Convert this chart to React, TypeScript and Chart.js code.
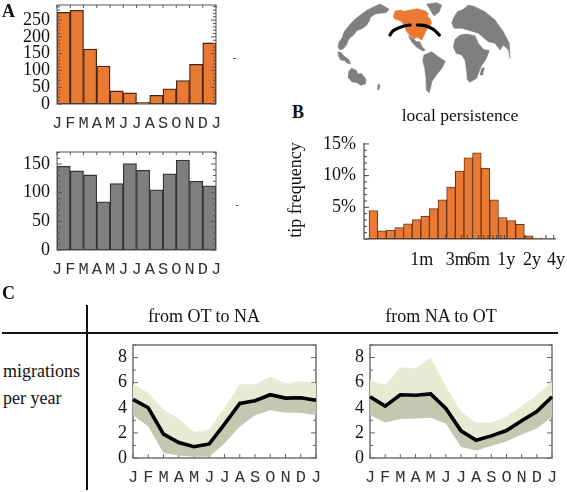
import React, { useEffect, useRef } from "react";
import { Chart, registerables } from "chart.js";

Chart.register(...registerables);

const monthTicks = ["J", "F", "M", "A", "M", "J", "J", "A", "S", "O", "N", "D", "J"];
const naCounts = [273, 279, 164, 113, 39, 33, 5, 26, 45, 70, 118, 182];
const otCounts = [146, 138, 131, 84, 116, 151, 139, 105, 133, 157, 120, 112];
const tipFreq = [4.5, 1.3, 1.4, 1.8, 2.4, 3.05, 3.6, 4.8, 6.2, 8.2, 10.7, 12.8, 13.6, 11.2, 6.2, 3.4, 2.9, 2.3, 0.5, 0.15, 0.05, 0.05];
const persistLabels = ["1m", "3m", "6m", "1y", "2y", "4y"];
const persistTicks = [6.12, 10.22, 12.7, 15.9, 18.9, 21.67];
const persistMinor = [8.9, 10.7, 11.4, 12, 12.7, 13.3, 13.8, 14.4, 14.8, 15.3, 15.7, 18.1, 20.5, 21.4];
const otNaMean = [4.67, 4.0, 1.9, 1.23, 0.9, 1.12, 2.7, 4.35, 4.56, 5.04, 4.77, 4.8, 4.6];
const otNaUpper = [5.87, 5.2, 3.87, 3.15, 2.08, 2.27, 4.0, 5.87, 5.87, 6.48, 5.95, 6.12, 5.95];
const otNaLower = [3.4, 2.5, 0.4, 0.2, 0.1, 0.1, 1.15, 2.5, 3.4, 3.8, 3.6, 3.6, 3.4];
const naOtMean = [4.88, 4.13, 5.04, 5.0, 5.1, 3.95, 2.16, 1.41, 1.76, 2.19, 2.96, 3.7, 4.88];
const naOtUpper = [6.2, 5.84, 7.2, 7.15, 8.0, 5.7, 3.68, 2.8, 2.8, 3.28, 4.13, 5.0, 6.1];
const naOtLower = [3.4, 2.83, 3.1, 3.15, 3.2, 2.75, 0.88, 0.6, 0.96, 1.33, 1.87, 2.35, 3.28];

const asiaEast = [[150,12],[165,20],[178,28],[168,38],[150,40],[135,42],[122,52],[118,62],[110,76],[96,86],[80,92],[72,104],[62,112],[54,122],[50,134],[40,146],[30,150],[24,140],[27,126],[36,114],[42,96],[56,78],[72,60],[92,44],[112,30],[132,20],[150,12]];
const islands = [[24,155],[34,158],[42,168],[56,178],[62,192],[52,190],[44,182],[32,180],[26,168],[24,155]];
const australia = [[64,205],[78,210],[84,222],[94,220],[108,238],[106,252],[92,256],[80,248],[66,246],[54,232],[56,215],[64,205]];
const newZealand = [[145,252],[150,255],[147,270],[142,268],[145,252]];
const northAmerica = [[195,33],[212,30],[222,34],[240,30],[262,26],[285,32],[295,40],[292,50],[300,55],[305,70],[292,86],[282,106],[276,120],[262,112],[252,116],[240,108],[228,92],[225,76],[210,62],[196,58],[190,52],[195,33]];
const mexico = [[235,108],[250,116],[258,124],[270,126],[276,140],[286,150],[278,153],[260,142],[247,128],[235,108]];
const southAmerica = [[282,165],[305,155],[325,170],[346,184],[336,205],[320,224],[306,244],[298,278],[289,270],[288,236],[284,205],[278,182],[282,165]];
const greenland = [[290,12],[320,8],[335,15],[328,35],[312,48],[302,32],[290,12]];
const africa = [[375,118],[390,105],[410,102],[435,107],[445,130],[460,148],[478,152],[468,178],[452,202],[440,235],[420,247],[412,240],[410,215],[405,180],[395,165],[378,160],[370,140],[375,118]];
const eurasia = [[365,68],[370,55],[382,35],[400,28],[415,15],[435,20],[465,35],[495,60],[520,95],[538,130],[540,175],[535,150],[520,135],[510,150],[495,130],[475,125],[445,100],[420,92],[395,85],[372,85],[365,68]];
const madagascar = [[455,205],[463,203],[458,225],[450,225],[455,205]];
const arcWest = [[180,105],[190,92],[215,80],[240,75]];
const arcEast = [[262,75],[285,77],[310,88],[328,105]];

const ORANGE = "#e87a33";
const GREY = "#7f7f7f";
const SERIF = "'Liberation Serif'";
const MONO = "'Liberation Mono'";

type Rect = { l: number; t: number; r: number; b: number };
const M = { L: 50, R: 24, T: 24, B: 32 };

function axisPlugin(cfg: any) {
  const hook = cfg.under ? "beforeDatasetsDraw" : "afterDatasetsDraw";
  return {
    id: "axisMarks",
    [hook](chart: any) {
      const { ctx, chartArea: a, scales } = chart;
      const x = scales.x, y = scales.y;
      ctx.save();
      ctx.strokeStyle = cfg.color;
      ctx.lineWidth = 1;
      if (cfg.frame) {
        ctx.lineWidth = cfg.frameWidth || 1;
        ctx.strokeRect(a.left, a.top, a.right - a.left, a.bottom - a.top);
        ctx.lineWidth = 1;
      } else {
        ctx.lineWidth = 1.2;
        ctx.beginPath();
        ctx.moveTo(a.left, a.top);
        ctx.lineTo(a.left, a.bottom);
        ctx.lineTo(a.right, a.bottom);
        ctx.stroke();
        ctx.lineWidth = 1;
      }
      ctx.beginPath();
      for (let v = 0; v <= y.max; v += cfg.yStep) {
        const p = y.getPixelForValue(v);
        const major = Math.abs(v / cfg.yMajor - Math.round(v / cfg.yMajor)) < 1e-6;
        const len = major ? 5 : 3;
        ctx.moveTo(a.left, p); ctx.lineTo(a.left + len, p);
        if (cfg.rightTicks) { ctx.moveTo(a.right, p); ctx.lineTo(a.right - len, p); }
      }
      for (const v of cfg.xTicks || []) {
        const p = x.getPixelForValue(v);
        if (cfg.topTicks) { ctx.moveTo(p, a.top); ctx.lineTo(p, a.top + 3); }
        if (cfg.bottomTicks) { ctx.moveTo(p, a.bottom); ctx.lineTo(p, a.bottom - 4); }
      }
      ctx.stroke();
      ctx.restore();
    },
  };
}

const polygonFill = {
  id: "polygonFill",
  beforeDatasetsDraw(chart: any) {
    const { ctx } = chart;
    chart.data.datasets.forEach((ds: any, i: number) => {
      if (!ds.polygonColor) return;
      const pts = chart.getDatasetMeta(i).data;
      ctx.save();
      ctx.fillStyle = ds.polygonColor;
      ctx.beginPath();
      pts.forEach((p: any, k: number) => (k ? ctx.lineTo(p.x, p.y) : ctx.moveTo(p.x, p.y)));
      ctx.closePath();
      ctx.fill();
      ctx.restore();
    });
  },
};

function plotRectLayout() {
  return { padding: { left: 0, top: M.T, right: M.R, bottom: 0 } };
}

function monthAxes(yMax: number, yStep: number, padX: number, padY: number) {
  return {
    x: {
      type: "linear", min: 0, max: 12, offset: false,
      afterFit: (s: any) => { s.height = M.B; },
      grid: { display: false, drawTicks: false, offset: false }, border: { display: false },
      ticks: {
        stepSize: 1, autoSkip: false, maxRotation: 0, padding: padX,
        color: "#333", font: { family: MONO, size: 17 },
        callback: (v: number) => monthTicks[Math.round(v)],
      },
    },
    y: {
      min: 0, max: yMax,
      afterFit: (s: any) => { s.width = M.L; },
      grid: { display: false, drawTicks: false }, border: { display: false },
      ticks: {
        stepSize: yStep, includeBounds: false, autoSkip: false, padding: padY,
        color: "#111", font: { family: SERIF, size: 18 },
      },
    },
  };
}

function base(scales: any, extra: any = {}) {
  return {
    animation: false, responsive: false, maintainAspectRatio: false,
    layout: plotRectLayout(),
    plugins: { legend: { display: false }, tooltip: { enabled: false } },
    scales, ...extra,
  };
}

function monthBars(values: number[], yMax: number, yStep: number, color: string, edge: string) {
  return {
    type: "bar",
    data: {
      datasets: [{
        data: values.map((v, i) => ({ x: i + 0.5, y: v })),
        backgroundColor: color, borderColor: edge, borderWidth: 1.3, borderSkipped: false,
        barPercentage: 1, categoryPercentage: 1,
      }],
    },
    options: base(monthAxes(yMax, yStep, 9, 7)),
    plugins: [axisPlugin({
      color: "#555", frame: true, yStep: 10, yMajor: 50, rightTicks: true,
      xTicks: monthTicks.map((_, i) => i), topTicks: true,
    })],
  };
}

function bandChart(mean: number[], upper: number[], lower: number[]) {
  const pts = (a: number[]) => a.map((v, i) => ({ x: i, y: v }));
  return {
    type: "line",
    data: {
      datasets: [
        { data: pts(mean), borderColor: "#000", borderWidth: 3.6, pointRadius: 0, fill: false, clip: 4, borderJoinStyle: "miter" },
        { data: pts(upper), borderWidth: 0, pointRadius: 0, backgroundColor: "#e6ebd3", fill: { target: 0, above: "#e6ebd3", below: "#e6ebd3" } },
        { data: pts(lower), borderWidth: 0, pointRadius: 0, backgroundColor: "#c5c8b0", fill: { target: 0, above: "#c5c8b0", below: "#c5c8b0" } },
      ],
    },
    options: base(monthAxes(9, 2, 9, 6)),
    plugins: [axisPlugin({
      under: true, color: "#666", frame: true, frameWidth: 1.4, yStep: 1, yMajor: 2, rightTicks: true,
      xTicks: monthTicks.map((_, i) => i), bottomTicks: true,
    })],
  };
}

function histogram() {
  const scales: any = monthAxes(15.15, 5, 9, 8);
  scales.x.min = -0.58;
  scales.x.max = 21.67;
  scales.x.afterBuildTicks = (s: any) => { s.ticks = persistTicks.map((value) => ({ value })); };
  scales.x.ticks.font = { family: SERIF, size: 18 };
  scales.x.ticks.color = "#111";
  scales.x.ticks.padding = 10;
  scales.x.ticks.callback = (v: number) => persistLabels[persistTicks.indexOf(v)];
  scales.y.ticks.callback = (v: number) => (v === 0 ? "" : v + "%");
  return {
    type: "bar",
    data: {
      datasets: [{
        data: tipFreq.map((v, i) => ({ x: i + 0.5, y: v })),
        backgroundColor: ORANGE, borderColor: "#6b3212", borderWidth: 1, borderSkipped: false,
        barPercentage: 1, categoryPercentage: 1,
      }],
    },
    options: base(scales),
    plugins: [axisPlugin({
      color: "#444", frame: false, yStep: 1, yMajor: 5, xTicks: persistMinor, bottomTicks: true,
    })],
  };
}

function mapChart() {
  const poly = (p: number[][], c: string) => ({
    data: p.map(([x, y]) => ({ x, y })),
    polygonColor: c, borderColor: c, borderWidth: 0.5, pointRadius: 0, fill: false, tension: 0,
  });
  const arc = (p: number[][]) => ({
    data: p.map(([x, y]) => ({ x, y })),
    borderColor: "#000", borderWidth: 3.2, pointRadius: 0, fill: false, tension: 0.4, borderCapStyle: "round",
  });
  return {
    type: "line",
    data: {
      datasets: [
        arc(arcWest), arc(arcEast),
        poly(northAmerica, ORANGE),
        ...[asiaEast, islands, australia, newZealand, mexico, southAmerica, greenland, eurasia, madagascar, africa].map((p) => poly(p, GREY)),
      ],
    },
    options: {
      animation: false, responsive: false, maintainAspectRatio: false,
      layout: { padding: 0 },
      plugins: { legend: { display: false }, tooltip: { enabled: false } },
      scales: {
        x: { type: "linear", min: 0, max: 720, display: false },
        y: { type: "linear", min: 0, max: 300, reverse: true, display: false },
      },
    },
    plugins: [polygonFill],
  };
}

const PANELS: { rect: Rect; make: () => any }[] = [
  { rect: { l: 57, t: 5, r: 216, b: 104 }, make: () => monthBars(naCounts, 295, 50, ORANGE, "#4a2410") },
  { rect: { l: 57, t: 152, r: 216, b: 250 }, make: () => monthBars(otCounts, 171, 50, GREY, "#333") },
  { rect: { l: 364, t: 143, r: 556, b: 239 }, make: histogram },
  { rect: { l: 133, t: 345, r: 316, b: 458 }, make: () => bandChart(otNaMean, otNaUpper, otNaLower) },
  { rect: { l: 370, t: 345, r: 552, b: 458 }, make: () => bandChart(naOtMean, naOtUpper, naOtLower) },
];

function Panel({ rect, make }: { rect: Rect; make: () => any }) {
  const ref = useRef<HTMLCanvasElement>(null);
  useEffect(() => {
    const c = new Chart(ref.current as any, make());
    return () => c.destroy();
  }, []);
  return (
    <canvas
      ref={ref}
      width={rect.r - rect.l + M.L + M.R}
      height={rect.b - rect.t + M.T + M.B}
      style={{ position: "absolute", left: rect.l - M.L, top: rect.t - M.T, width: rect.r - rect.l + M.L + M.R, height: rect.b - rect.t + M.T + M.B }}
    />
  );
}

function MapPanel() {
  const ref = useRef<HTMLCanvasElement>(null);
  useEffect(() => {
    const c = new Chart(ref.current as any, mapChart() as any);
    return () => c.destroy();
  }, []);
  return <canvas ref={ref} width={240} height={100} style={{ position: "absolute", left: 330, top: 0, width: 240, height: 100 }} />;
}

function Label({ x, y, text, size = 18, bold = false, center = false, rotate = false }: any) {
  const tr = rotate ? "translate(-50%,-50%) rotate(-90deg)" : center ? "translate(-50%,-50%)" : "translateY(-50%)";
  return (
    <div style={{ position: "absolute", left: x, top: y, transform: tr, whiteSpace: "nowrap", fontFamily: SERIF, fontSize: size, fontWeight: bold ? 700 : 400, color: "#111", lineHeight: 1 }}>
      {text}
    </div>
  );
}

const Bar = ({ l, t, w, h, c = "#111" }: any) => (
  <div style={{ position: "absolute", left: l, top: t, width: w, height: h, background: c }} />
);

export default function App() {
  return (
    <div style={{ position: "absolute", left: 0, top: 0, width: 567, height: 492, overflow: "hidden", background: "#fff" }}>
      <MapPanel />
      {PANELS.map((p, i) => <Panel key={i} rect={p.rect} make={p.make} />)}
      <Label x={2} y={11} text="A" size={18} bold />
      <Label x={292} y={112} text="B" size={18} bold />
      <Label x={2} y={293} text="C" size={18} bold />
      <Label x={460} y={116} text="local persistence" size={17.6} center />
      <Label x={295} y={190} text="tip frequency" size={18} rotate />
      <Label x={204} y={316} text="from OT to NA" size={18} center />
      <Label x={441} y={316} text="from NA to OT" size={18} center />
      <Label x={3} y={371} text="migrations" size={18} />
      <Label x={3} y={398} text="per year" size={18} />
      <Bar l={86} t={305} w={2} h={185} />
      <Bar l={2} t={332} w={556} h={2} />
      <Bar l={233} t={58} w={3} h={1} c="#555" />
      <Bar l={236} t={205} w={2} h={1} c="#333" />
    </div>
  );
}
